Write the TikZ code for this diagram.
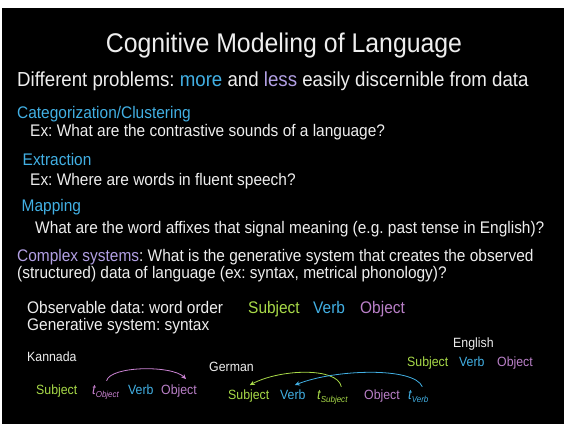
\documentclass[tikz,border=0pt]{standalone}
\usepackage{fontspec}
\setmainfont{Liberation Sans}[FakeStretch=0.92]
\usetikzlibrary{arrows.meta}
\frenchspacing

\definecolor{fg}{RGB}{238,238,238}
\definecolor{skyblue}{RGB}{66,176,228}
\definecolor{lavender}{RGB}{178,160,228}
\definecolor{lime}{RGB}{168,218,72}
\definecolor{orchid}{RGB}{186,128,200}
\definecolor{pinkarc}{RGB}{204,132,212}

\newcommand{\tracesub}[1]{\itshape t\raisebox{-3pt}{\fontsize{8.7}{10}\selectfont #1}}

\begin{document}
\begin{tikzpicture}[x=1pt,y=-1pt,
  txt/.style={anchor=base west, inner sep=0pt, text=fg},
  titlefont/.style={font=\fontsize{27}{32}\selectfont},
  leadfont/.style={font=\fontsize{20.3}{24}\selectfont},
  bodyfont/.style={font=\fontsize{16.8}{20}\selectfont},
  smallfont/.style={font=\fontsize{13.4}{16}\selectfont},
  tracefont/.style={font=\fontsize{14}{16}\selectfont},
  movearrow/.style={line width=0.8pt, -{Stealth[length=5pt,width=4.5pt]}}
]
% page and slide background
\fill[white] (0,0) rectangle (565,424);
\fill[black] (2,8) rectangle (564,424);
\useasboundingbox (0,0) rectangle (565,424);

% title and lead line
\node[txt, titlefont, anchor=base] (title) at (284,52.7) {Cognitive Modeling of Language};
\node[txt, leadfont] (lead) at (17,86.7)
  {Different problems: \textcolor{skyblue}{more} and \textcolor{lavender}{less} easily discernible from data};

% problem types
\node[txt, bodyfont, text=skyblue] (cat) at (17,118.3) {Categorization/Clustering};
\node[txt, bodyfont] (catex) at (30,136.7) {Ex: What are the contrastive sounds of a language?};
\node[txt, bodyfont, text=skyblue] (ext) at (22.5,165) {Extraction};
\node[txt, bodyfont] (extex) at (30,185) {Ex: Where are words in fluent speech?};
\node[txt, bodyfont, text=skyblue] (map) at (21.5,211.7) {Mapping};
\node[txt, bodyfont] (mapex) at (35,233.3) {What are the word affixes that signal meaning (e.g. past tense in English)?};
\node[txt, bodyfont] (cplx) at (17,261.7)
  {\textcolor{lavender}{Complex systems}: What is the generative system that creates the observed};
\node[txt, bodyfont] (cplx2) at (17,278.3) {(structured) data of language (ex: syntax, metrical phonology)?};

% observable data vs generative system
\node[txt, bodyfont] (obs) at (27,313) {Observable data: word order};
\node[txt, bodyfont, text=lime] (osub) at (248,313) {Subject};
\node[txt, bodyfont, text=skyblue] (overb) at (313,313) {Verb};
\node[txt, bodyfont, text=orchid] (oobj) at (360,313) {Object};
\node[txt, bodyfont] (gen) at (27,330) {Generative system: syntax};

% Kannada
\node[txt, smallfont] (kan) at (27,361) {Kannada};
\node[txt, smallfont, text=lime] (ksub) at (36,394) {Subject};
\node[txt, tracefont, text=pinkarc] (kt) at (92,394) {\tracesub{Object}};
\node[txt, smallfont, text=skyblue] (kverb) at (128,394) {Verb};
\node[txt, smallfont, text=orchid] (kobj) at (161,394) {Object};

% German
\node[txt, smallfont] (ger) at (209,371) {German};
\node[txt, smallfont, text=lime] (gsub) at (228,399) {Subject};
\node[txt, smallfont, text=skyblue] (gverb) at (280,399) {Verb};
\node[txt, tracefont, text=lime] (gts) at (317,399) {\tracesub{Subject}};
\node[txt, smallfont, text=orchid] (gobj) at (364,399) {Object};
\node[txt, tracefont, text=skyblue] (gtv) at (408,399) {\tracesub{Verb}};

% English
\node[txt, smallfont] (eng) at (453,347) {English};
\node[txt, smallfont, text=lime] (esub) at (407,366) {Subject};
\node[txt, smallfont, text=skyblue] (everb) at (459,366) {Verb};
\node[txt, smallfont, text=orchid] (eobj) at (497,366) {Object};

% movement arcs
\draw[movearrow, pinkarc] ([xshift=1pt,yshift=4pt]kt.north)
  .. controls +(4,-15) and +(-14,-14) .. ([xshift=7pt,yshift=5pt]kobj.north);
\draw[movearrow, lime] ([xshift=9pt,yshift=3pt]gts.north)
  .. controls +(-4,-20) and +(30,-16) .. ([xshift=1pt,yshift=4pt]gsub.north);
\draw[movearrow, skyblue] ([xshift=4pt,yshift=3pt]gtv.north)
  .. controls +(-8,-20) and +(40,-16) .. ([xshift=2pt,yshift=4pt]gverb.north);
\end{tikzpicture}
\end{document}
